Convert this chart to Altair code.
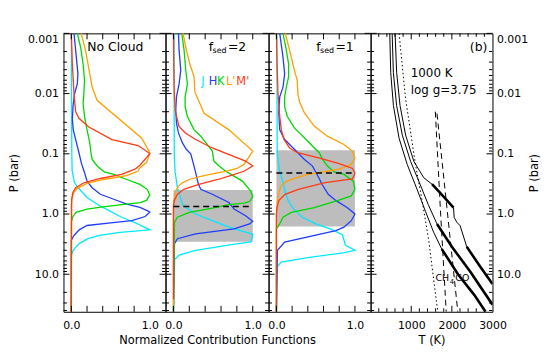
import altair as alt
import pandas as pd

FONT = "DejaVu Sans"
BANDS = ["J", "H", "K", "L", "M"]
BAND_COLORS = ["#00e8ff", "#1f3dff", "#00d800", "#ffa000", "#ff3a14"]

# ---------------- Panel 1 : No Cloud ----------------
nc_J_P = [0.001, 0.01, 0.1, 0.19, 0.3, 0.37, 0.53, 0.69, 0.88, 1.13, 1.37, 1.65, 1.83, 2.02, 2.27, 2.57, 3.1, 3.75, 4.25, 5.0, 42]
nc_J_v = [0.0, 0.003, 0.006, 0.01, 0.04, 0.09, 0.2, 0.33, 0.48, 0.64, 0.8, 0.93, 1.0, 0.62, 0.36, 0.21, 0.1, 0.04, 0.015, 0.0, 0.0]
nc_H_P = [0.001, 0.0019, 0.0047, 0.0069, 0.01, 0.0165, 0.027, 0.04, 0.058, 0.096, 0.14, 0.2, 0.284, 0.366, 0.47, 0.568, 0.686, 0.778, 0.88, 0.93, 1.1, 1.29, 1.4, 1.55, 1.83, 2.27, 2.73, 42]
nc_H_v = [0.034, 0.055, 0.084, 0.076, 0.042, 0.021, 0.013, 0.025, 0.055, 0.097, 0.126, 0.165, 0.2, 0.265, 0.37, 0.54, 0.706, 0.874, 0.966, 1.0, 0.94, 0.77, 0.5, 0.2, 0.1, 0.034, 0.0, 0.0]
nc_K_P = [0.001, 0.0017, 0.0032, 0.006, 0.01, 0.0146, 0.024, 0.04, 0.066, 0.096, 0.124, 0.159, 0.2, 0.22, 0.267, 0.322, 0.389, 0.482, 0.589, 0.644, 0.686, 0.758, 0.828, 0.94, 1.13, 1.37, 42]
nc_K_v = [0.076, 0.118, 0.15, 0.168, 0.16, 0.15, 0.168, 0.2, 0.235, 0.25, 0.265, 0.33, 0.42, 0.54, 0.706, 0.874, 0.966, 1.0, 0.96, 0.88, 0.7, 0.4, 0.2, 0.06, 0.015, 0.0, 0.0]
nc_L_P = [0.001, 0.0019, 0.0047, 0.0078, 0.0129, 0.0547, 0.096, 0.14, 0.17, 0.195, 0.23, 0.267, 0.31, 0.375, 0.45, 0.57, 0.7, 42]
nc_L_v = [0.126, 0.18, 0.235, 0.265, 0.328, 0.895, 1.0, 0.958, 0.874, 0.85, 0.7, 0.41, 0.2, 0.076, 0.025, 0.008, 0.0, 0.0]
nc_M_P = [0.001, 0.0032, 0.01, 0.02, 0.0257, 0.036, 0.058, 0.073, 0.099, 0.155, 0.18, 0.219, 0.257, 0.303, 0.366, 0.44, 0.57, 42]
nc_M_v = [0.0, 0.013, 0.034, 0.055, 0.097, 0.223, 0.517, 0.85, 1.0, 0.874, 0.81, 0.64, 0.37, 0.16, 0.055, 0.02, 0.004, 0.0]

# ---------------- Panel 2 : fsed = 2 ----------------
f2_J_P = [0.001, 0.1, 0.195, 0.366, 0.686, 0.778, 1.0, 1.29, 1.65, 2.0, 2.16, 2.9, 3.2, 4.0, 4.8, 5.7, 42]
f2_J_v = [0.008, 0.01, 0.02, 0.05, 0.113, 0.155, 0.28, 0.49, 0.7, 0.91, 1.0, 0.98, 0.75, 0.28, 0.07, 0.015, 0.0]
f2_H_P = [0.001, 0.0019, 0.0041, 0.0069, 0.0113, 0.0188, 0.031, 0.045, 0.066, 0.085, 0.1, 0.14, 0.205, 0.322, 0.389, 0.47, 0.644, 0.828, 1.065, 1.32, 1.46, 1.76, 2.13, 2.57, 3.1, 42]
f2_H_v = [0.063, 0.071, 0.092, 0.071, 0.038, 0.029, 0.038, 0.063, 0.113, 0.164, 0.218, 0.248, 0.28, 0.315, 0.345, 0.49, 0.70, 0.765, 0.91, 1.0, 0.96, 0.765, 0.28, 0.05, 0.013, 0.0]
f2_K_P = [0.001, 0.0019, 0.0041, 0.0069, 0.0113, 0.0165, 0.024, 0.04, 0.051, 0.09, 0.132, 0.159, 0.195, 0.235, 0.284, 0.414, 0.52, 0.62, 0.66, 0.70, 0.80, 0.94, 1.13, 1.37, 42]
f2_K_v = [0.105, 0.134, 0.155, 0.176, 0.147, 0.147, 0.176, 0.26, 0.345, 0.49, 0.51, 0.575, 0.66, 0.765, 0.87, 0.975, 1.0, 0.96, 0.89, 0.70, 0.49, 0.2, 0.05, 0.013, 0.0]
f2_L_P = [0.001, 0.0017, 0.0032, 0.0053, 0.0094, 0.0213, 0.04, 0.09, 0.15, 0.175, 0.195, 0.216, 0.24, 0.267, 0.303, 0.343, 0.414, 0.533, 0.686, 42]
f2_L_v = [0.122, 0.155, 0.206, 0.26, 0.27, 0.387, 0.70, 1.0, 0.89, 0.8, 0.66, 0.49, 0.33, 0.2, 0.113, 0.063, 0.03, 0.013, 0.0, 0.0]
f2_M_P = [0.001, 0.004, 0.01, 0.02, 0.035, 0.045, 0.058, 0.08, 0.132, 0.159, 0.195, 0.23, 0.267, 0.322, 0.389, 0.47, 0.6, 0.75, 26]
f2_M_v = [0.0, 0.005, 0.01, 0.025, 0.07, 0.15, 0.28, 0.49, 0.91, 1.0, 0.89, 0.72, 0.56, 0.32, 0.13, 0.05, 0.01, 0.0, 0.0]

# ---------------- Panel 3 : fsed = 1 ----------------
f1_J_P = [0.001, 0.1, 0.195, 0.284, 0.414, 0.6, 0.83, 1.13, 1.46, 1.8, 2.2, 2.7, 3.3, 4.0, 4.4, 5.3, 6.3, 7.5, 42]
f1_J_v = [0.005, 0.01, 0.04, 0.08, 0.11, 0.15, 0.22, 0.33, 0.5, 0.7, 0.84, 0.86, 0.88, 1.0, 0.85, 0.4, 0.06, 0.01, 0.0]
f1_H_P = [0.001, 0.0025, 0.0047, 0.0078, 0.0113, 0.021, 0.04, 0.058, 0.075, 0.096, 0.124, 0.16, 0.2, 0.25, 0.32, 0.47, 0.6, 0.78, 1.0, 1.29, 1.65, 1.88, 2.92, 4.0, 42]
f1_H_v = [0.042, 0.084, 0.105, 0.084, 0.042, 0.03, 0.042, 0.105, 0.19, 0.273, 0.357, 0.46, 0.5, 0.54, 0.58, 0.66, 0.76, 0.9, 1.0, 0.954, 0.86, 0.757, 0.105, 0.013, 0.0]
f1_K_P = [0.001, 0.0019, 0.0032, 0.0053, 0.0078, 0.0113, 0.0165, 0.024, 0.0375, 0.048, 0.062, 0.08, 0.096, 0.124, 0.16, 0.2, 0.22, 0.284, 0.389, 0.5, 0.6, 0.78, 0.94, 1.13, 1.46, 1.76, 42]
f1_K_v = [0.084, 0.126, 0.155, 0.155, 0.126, 0.105, 0.105, 0.139, 0.23, 0.315, 0.4, 0.483, 0.546, 0.588, 0.65, 0.735, 0.86, 0.98, 1.0, 0.954, 0.777, 0.483, 0.19, 0.084, 0.042, 0.0, 0.0]
f1_L_P = [0.001, 0.0019, 0.0037, 0.006, 0.01, 0.0137, 0.021, 0.035, 0.051, 0.07, 0.09, 0.116, 0.15, 0.18, 0.2, 0.22, 0.25, 0.284, 0.34, 0.44, 0.6, 0.8, 1.0, 42]
f1_L_v = [0.113, 0.168, 0.22, 0.265, 0.273, 0.294, 0.357, 0.483, 0.65, 0.86, 0.966, 1.0, 0.954, 0.8, 0.6, 0.4, 0.25, 0.13, 0.06, 0.03, 0.015, 0.005, 0.0, 0.0]
f1_M_P = [0.001, 0.0032, 0.01, 0.024, 0.04, 0.058, 0.08, 0.096, 0.118, 0.145, 0.175, 0.21, 0.26, 0.3, 0.39, 0.47, 0.6, 0.78, 1.0, 42]
f1_M_v = [0.0, 0.008, 0.02, 0.042, 0.063, 0.097, 0.168, 0.27, 0.55, 0.8, 0.97, 1.0, 0.97, 0.62, 0.28, 0.11, 0.03, 0.008, 0.0, 0.0]

# cloud layers (gray boxes) and cloud base (dashed)
f2_cloud_P = [0.40, 2.9]
f2_base_P = 0.75
f1_cloud_P = [0.087, 1.61]
f1_base_P = 0.208
cloud_v = [0.0, 1.0]

# ---------------- Panel 4 : T-P profiles (thin = radiative, thick = convective) ----------------
tp_f1_thin1_T = [602, 641, 724, 862, 1065, 1309, 1512]
tp_f1_thin1_P = [0.001, 0.0045, 0.0158, 0.049, 0.134, 0.25, 0.32]
tp_f1_thick1_T = [1512, 1780, 2041]
tp_f1_thick1_P = [0.32, 0.5, 0.78]
tp_f1_thin2_T = [2041, 2057, 2122, 2203, 2366]
tp_f1_thin2_P = [0.78, 1.14, 1.37, 1.56, 3.5]
tp_f1_thick2_T = [2366, 2700, 3000]
tp_f1_thick2_P = [3.5, 7.5, 14.5]
tp_f2_thin_T = [530, 560, 640, 780, 985, 1200, 1420, 1634]
tp_f2_thin_P = [0.001, 0.0045, 0.0158, 0.049, 0.134, 0.3, 0.7, 1.46]
tp_f2_thick_T = [1634, 2000, 2450, 3000]
tp_f2_thick_P = [1.46, 3.5, 9.0, 32]
tp_nc_thin_T = [471, 495, 561, 700, 902, 1150, 1350, 1550, 1750]
tp_nc_thin_P = [0.001, 0.0045, 0.0158, 0.055, 0.151, 0.4, 0.9, 2.0, 3.8]
tp_nc_thick_T = [1750, 2150, 2550, 2830]
tp_nc_thick_P = [3.8, 10.0, 22.0, 42]
ch4co_T = [700, 780, 861, 983, 1105, 1268, 1431, 1634, 1660]
ch4co_P = [0.001, 0.0035, 0.0122, 0.043, 0.151, 0.6, 2.74, 34, 42]
cond1_T = [1593, 1715, 1861]
cond1_P = [0.02, 0.78, 42]
cond2_T = [1634, 1878, 2146]
cond2_P = [0.0215, 0.78, 42]

# ---------------- axes ----------------
Y_DOMAIN = [0.001, 42]
X_DOMAIN = [-0.1, 1.2]
T_DOMAIN = [0, 3000]
Y_MAJOR = [0.001, 0.01, 0.1, 1, 10]
Y_MINOR = [m * 10.0 ** e for e in range(-3, 2) for m in range(2, 10) if m * 10.0 ** e <= 42]
X_MAJOR = [0, 0.2, 0.4, 0.6, 0.8, 1.0]
X_LABELS = [0, 1]
T_MAJOR = [1000, 2000]
T_MINOR = [t for t in range(200, 3000, 200) if t % 1000 != 0]
T_LABELS = [1000, 2000, 3000]

WIDTHS = [103, 104, 103, 123]
H = 281
MAJ, MIN = 6, 3.5

Y_LABEL_EXPR = ("datum.value >= 1 ? format(datum.value, '.1f') : "
                "(datum.value < 0.005 ? '0.001' : (datum.value < 0.05 ? '0.01' : '0.1'))")


def y_enc(axis):
    return alt.Y("P:Q", scale=alt.Scale(type="log", domain=Y_DOMAIN, reverse=True, nice=False), axis=axis)


def x_enc(domain, axis):
    return alt.X("v:Q", scale=alt.Scale(domain=domain, nice=False, zero=False), axis=axis)


def curves_df(series):
    rows = []
    for band, P, v in series:
        for i, (p, x) in enumerate(zip(P, v)):
            rows.append({"band": band, "i": i, "P": p, "v": x})
    return pd.DataFrame(rows)


def tick_layers(width, xdom, xmaj, xmin, xax, yax):
    layers = []
    for vals, L in [(Y_MAJOR, MAJ), (Y_MINOR, MIN)]:
        base = alt.Chart(pd.DataFrame({"P": vals})).mark_rule(color="black", strokeWidth=1)
        layers.append(base.encode(y=y_enc(yax), x=alt.value(0), x2=alt.value(L)))
        layers.append(base.encode(y=y_enc(yax), x=alt.value(width - L), x2=alt.value(width)))
    for vals, L in [(xmaj, MAJ), (xmin, MIN)]:
        if not vals:
            continue
        base = alt.Chart(pd.DataFrame({"v": vals})).mark_rule(color="black", strokeWidth=1)
        layers.append(base.encode(x=x_enc(xdom, xax), y=alt.value(H - L), y2=alt.value(H)))
        layers.append(base.encode(x=x_enc(xdom, xax), y=alt.value(0), y2=alt.value(L)))
    return layers


def txt(s, x, y, size=12, color="black", align="left", baseline="middle"):
    return alt.Chart(pd.DataFrame({"t": [s]})).mark_text(
        font=FONT, fontSize=size, color=color, align=align, baseline=baseline
    ).encode(text="t:N", x=alt.value(x), y=alt.value(y))


def nc_panel(series, width, xax, yax, extra_front=(), extra_back=()):
    lines = alt.Chart(curves_df(series)).mark_line(strokeWidth=1.3).encode(
        x=x_enc(X_DOMAIN, xax), y=y_enc(yax),
        color=alt.Color("band:N", scale=alt.Scale(domain=BANDS, range=BAND_COLORS), legend=None),
        order="i:Q",
    )
    layers = list(extra_back) + [lines] + list(extra_front) + tick_layers(width, X_DOMAIN, X_MAJOR, [], xax, yax)
    return alt.layer(*layers).properties(width=width, height=H)


def cloud_layers(cloudP, baseP, xax, yax):
    rect = alt.Chart(pd.DataFrame({"v": [cloud_v[0]], "v2": [cloud_v[1]], "P": [cloudP[0]], "P2": [cloudP[1]]})).mark_rect(
        color="#bdbdbd").encode(x=x_enc(X_DOMAIN, xax), x2="v2:Q", y=y_enc(yax), y2="P2:Q")
    dash = alt.Chart(pd.DataFrame({"v": [cloud_v[0]], "v2": [cloud_v[1]], "P": [baseP]})).mark_rule(
        color="black", strokeWidth=1.6, strokeDash=[6, 4]).encode(x=x_enc(X_DOMAIN, xax), x2="v2:Q", y=y_enc(yax))
    return rect, dash


def x_axis(title=None):
    kw = dict(values=X_LABELS, format=".1f", ticks=False, domain=False, grid=False, labelPadding=8,
              labelFlush=False, labelFontSize=11)
    if title:
        kw.update(title=title, titleY=29, titleBaseline="middle", titleFontSize=11.5, titleFontWeight="normal")
    else:
        kw.update(title=None)
    return alt.Axis(**kw)


yax_left = alt.Axis(values=Y_MAJOR, labelExpr=Y_LABEL_EXPR, ticks=False, domain=False, grid=False,
                    labelPadding=5, labelFontSize=11, orient="left", labelFlush=True,
                    title="P (bar)", titleX=-49.5, titleY=H / 2, titleAngle=270, titleBaseline="middle",
                    titleAlign="center", titleFontSize=11.5, titleFontWeight="normal")
yax_right = alt.Axis(values=Y_MAJOR, labelExpr=Y_LABEL_EXPR, ticks=False, domain=False, grid=False,
                     labelPadding=4, labelFontSize=11, orient="right", labelFlush=True,
                     title="P (bar)", titleX=42, titleY=H / 2, titleAngle=270, titleBaseline="middle",
                     titleAlign="center", titleFontSize=11.5, titleFontWeight="normal")

# Panel 1
s1 = [("J", nc_J_P, nc_J_v), ("H", nc_H_P, nc_H_v), ("K", nc_K_P, nc_K_v), ("L", nc_L_P, nc_L_v), ("M", nc_M_P, nc_M_v)]
p1 = nc_panel(s1, WIDTHS[0], x_axis(), yax_left, extra_front=[txt("No Cloud", 24, 14, size=12.5)])

# Panel 2
s2 = [("J", f2_J_P, f2_J_v), ("H", f2_H_P, f2_H_v), ("K", f2_K_P, f2_K_v), ("L", f2_L_P, f2_L_v), ("M", f2_M_P, f2_M_v)]
r2, d2 = cloud_layers(f2_cloud_P, f2_base_P, x_axis("Normalized Contribution Functions"), None)
lab2 = [
    txt("f", 43.5, 14, size=12.5),
    txt("sed", 47.5, 18, size=8),
    txt("=2", 63, 14, size=12.5),
    txt("J", 36, 49, size=11.5, color=BAND_COLORS[0]),
    txt("H", 43.5, 49, size=11.5, color=BAND_COLORS[1]),
    txt("K", 52, 49, size=11.5, color=BAND_COLORS[2]),
    txt("L'", 61, 49, size=11.5, color=BAND_COLORS[3]),
    txt("M'", 71.5, 49, size=11.5, color=BAND_COLORS[4]),
]
p2 = nc_panel(s2, WIDTHS[1], x_axis("Normalized Contribution Functions"), None,
              extra_back=[r2], extra_front=[d2] + lab2)

# Panel 3
s3 = [("J", f1_J_P, f1_J_v), ("H", f1_H_P, f1_H_v), ("K", f1_K_P, f1_K_v), ("L", f1_L_P, f1_L_v), ("M", f1_M_P, f1_M_v)]
r3, d3 = cloud_layers(f1_cloud_P, f1_base_P, x_axis(), None)
lab3 = [txt("f", 48, 14, size=12.5), txt("sed", 52, 18, size=8), txt("=1", 67.5, 14, size=12.5)]
p3 = nc_panel(s3, WIDTHS[2], x_axis(), None, extra_back=[r3], extra_front=[d3] + lab3)

# Panel 4
t_axis = alt.Axis(values=T_LABELS, format="d", ticks=False, domain=False, grid=False, labelPadding=8,
                  labelFlush=False, labelFontSize=11, title="T (K)", titleY=29, titleBaseline="middle",
                  titleFontSize=11.5, titleFontWeight="normal")
segs = []
for name, T, P, w in [
    ("f1_thin1", tp_f1_thin1_T, tp_f1_thin1_P, 1.0), ("f1_thick1", tp_f1_thick1_T, tp_f1_thick1_P, 2.6),
    ("f1_thin2", tp_f1_thin2_T, tp_f1_thin2_P, 1.0), ("f1_thick2", tp_f1_thick2_T, tp_f1_thick2_P, 2.6),
    ("f2_thin", tp_f2_thin_T, tp_f2_thin_P, 1.0), ("f2_thick", tp_f2_thick_T, tp_f2_thick_P, 2.6),
    ("nc_thin", tp_nc_thin_T, tp_nc_thin_P, 1.0), ("nc_thick", tp_nc_thick_T, tp_nc_thick_P, 2.6),
]:
    for i, (t, p) in enumerate(zip(T, P)):
        segs.append({"seg": name, "i": i, "v": t, "P": p, "w": w})
tp_lines = alt.Chart(pd.DataFrame(segs)).mark_line(color="black", clip=True).encode(
    x=x_enc(T_DOMAIN, t_axis), y=y_enc(yax_right), detail="seg:N", order="i:Q",
    strokeWidth=alt.StrokeWidth("w:Q", scale=None))
dotted = alt.Chart(pd.DataFrame({"v": ch4co_T, "P": ch4co_P, "i": range(len(ch4co_T))})).mark_line(
    color="black", strokeWidth=1, strokeDash=[1.5, 2.5], clip=True).encode(
    x=x_enc(T_DOMAIN, t_axis), y=y_enc(yax_right), order="i:Q")
cond = []
for k, (T, P) in enumerate([(cond1_T, cond1_P), (cond2_T, cond2_P)]):
    for i, (t, p) in enumerate(zip(T, P)):
        cond.append({"c": k, "i": i, "v": t, "P": p})
dashed = alt.Chart(pd.DataFrame(cond)).mark_line(color="black", strokeWidth=1, strokeDash=[6, 4], clip=True).encode(
    x=x_enc(T_DOMAIN, t_axis), y=y_enc(yax_right), detail="c:N", order="i:Q")
lab4 = [
    txt("(b)", 109, 14, size=12.5, align="center"),
    txt("1000 K", 40.5, 40.5, size=12),
    txt("log g=3.75", 40.5, 57, size=12),
    txt("CH", 65.5, 247, size=9.5),
    txt("4", 79.8, 251, size=7),
    txt("CO", 85.5, 247, size=9.5),
]
p4 = alt.layer(*([dotted, dashed, tp_lines] + lab4 +
                 tick_layers(WIDTHS[3], T_DOMAIN, T_MAJOR, T_MINOR, t_axis, yax_right))).properties(
    width=WIDTHS[3], height=H)

chart = alt.hconcat(p1, p2, p3, p4, spacing=0, bounds="flush").properties(
    padding={"left": 0, "top": 20, "right": 5, "bottom": 5}
).configure_view(stroke="black", strokeWidth=1).configure_axis(
    labelFont=FONT, titleFont=FONT, labelColor="black", titleColor="black", grid=False
)

chart.save("out.html", embed_options={"renderer": "svg", "actions": False})
